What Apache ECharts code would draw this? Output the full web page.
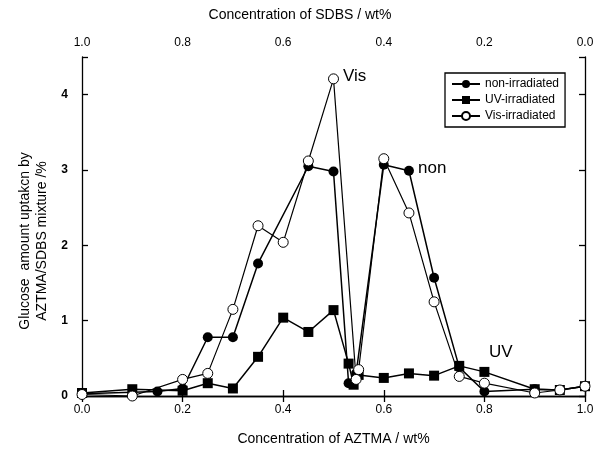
<!DOCTYPE html>
<html>
<head>
<meta charset="utf-8">
<script src="https://cdn.jsdelivr.net/npm/echarts@6/dist/echarts.min.js"></script>
<style>html,body{margin:0;padding:0;background:#fff;}#c{width:599px;height:455px;}</style>
</head>
<body>
<div id="c"></div>
<script>
// AZTMA concentration (wt%) and glucose uptake (%) per series
const nonX = [0, 0.15, 0.2, 0.25, 0.3, 0.35, 0.45, 0.5, 0.53, 0.545, 0.6, 0.65, 0.7, 0.75, 0.8, 0.9, 0.95, 1.0];
const nonY = [0.03, 0.06, 0.1, 0.78, 0.78, 1.76, 3.05, 2.98, 0.17, 0.3, 3.07, 2.99, 1.57, 0.38, 0.06, 0.09, 0.08, 0.13];
const uvX = [0, 0.1, 0.2, 0.25, 0.3, 0.35, 0.4, 0.45, 0.5, 0.53, 0.54, 0.55, 0.6, 0.65, 0.7, 0.75, 0.8, 0.9, 0.95, 1.0];
const uvY = [0.04, 0.09, 0.07, 0.17, 0.1, 0.52, 1.04, 0.85, 1.14, 0.43, 0.15, 0.28, 0.24, 0.3, 0.27, 0.4, 0.32, 0.09, 0.08, 0.13];
const visX = [0, 0.1, 0.2, 0.25, 0.3, 0.35, 0.4, 0.45, 0.5, 0.545, 0.55, 0.6, 0.65, 0.7, 0.75, 0.8, 0.9, 0.95, 1.0];
const visY = [0.02, 0.0, 0.22, 0.3, 1.15, 2.26, 2.04, 3.12, 4.21, 0.22, 0.35, 3.15, 2.43, 1.25, 0.26, 0.17, 0.04, 0.08, 0.13];
const seriesNames = ['non-irradiated', 'UV-irradiated', 'Vis-irradiated'];
const yTicks = [0, 1, 2, 3, 4];
const xTicks = [0, 0.2, 0.4, 0.6, 0.8, 1.0];

const zip = (xs, ys) => xs.map((x, i) => [x, ys[i]]);
const font = '"Liberation Sans", Arial, Helvetica, sans-serif';

const chart = echarts.init(document.getElementById('c'));
const axisCommon = {
  axisLine: { show: true, lineStyle: { color: '#000', width: 1.3 } },
  axisTick: { show: true, inside: true, length: 6, lineStyle: { color: '#000', width: 1.3 } },
  splitLine: { show: false },
};
chart.setOption({
  animation: false,
  backgroundColor: '#fff',
  grid: { left: 82, right: 14, top: 57, bottom: 59 },
  xAxis: [
    Object.assign({
      type: 'value', position: 'bottom', min: 0, max: 1, interval: 0.2,
      axisLabel: { fontFamily: font, fontSize: 12, color: '#000', margin: 8,
        formatter: v => xTicks.includes(Math.round(v * 10) / 10) ? v.toFixed(1) : '' },
      name: 'Concentration of AZTMA / wt%', nameLocation: 'middle', nameGap: 36,
      nameTextStyle: { fontFamily: font, fontSize: 14, color: '#000' }
    }, axisCommon),
    Object.assign({
      type: 'value', position: 'top', min: 0, max: 1, interval: 0.2, inverse: true,
      axisLabel: { fontFamily: font, fontSize: 12, color: '#000', margin: 8,
        formatter: v => v.toFixed(1) }
    }, axisCommon)
  ],
  yAxis: [
    Object.assign({
      type: 'value', position: 'left', min: 0, max: 4.5, interval: 1,
      axisLabel: { fontFamily: font, fontSize: 12, fontWeight: 'bold', color: '#000', margin: 14,
        formatter: v => yTicks.includes(v) ? String(v) : '' }
    }, axisCommon),
    Object.assign({
      type: 'value', position: 'right', min: 0, max: 4.5, interval: 1,
      axisLabel: { show: false }
    }, axisCommon)
  ],
  legend: {
    orient: 'vertical', left: 445, top: 73,
    itemWidth: 28, itemHeight: 10, itemGap: 4,
    padding: [5, 6, 5, 6],
    borderColor: '#000', borderWidth: 1.3, backgroundColor: '#fff',
    textStyle: { fontFamily: font, fontSize: 12, color: '#000' },
    data: seriesNames
  },
  series: [
    { name: seriesNames[0], type: 'line', data: zip(nonX, nonY), symbol: 'circle', symbolSize: 10,
      lineStyle: { color: '#000', width: 1.5 }, itemStyle: { color: '#000' }, z: 3 },
    { name: seriesNames[1], type: 'line', data: zip(uvX, uvY), symbol: 'rect', symbolSize: 10,
      lineStyle: { color: '#000', width: 1.5 }, itemStyle: { color: '#000' }, z: 2 },
    { name: seriesNames[2], type: 'line', data: zip(visX, visY), symbol: 'circle', symbolSize: 10,
      lineStyle: { color: '#000', width: 1.2 }, itemStyle: { color: '#fff', borderColor: '#000', borderWidth: 1 }, z: 4 }
  ],
  graphic: [
    { type: 'text', x: 300, y: 15,
      style: { text: 'Concentration of SDBS / wt%', font: '14px ' + font, fill: '#000', textAlign: 'center', textVerticalAlign: 'middle' } },
    { type: 'text', x: 34, y: 241, rotation: Math.PI / 2,
      style: { text: 'Glucose  amount uptakcn by\nAZTMA/SDBS mixture /%', font: '14px ' + font, fill: '#000',
        textAlign: 'center', textVerticalAlign: 'middle', lineHeight: 17 } },
    { type: 'text', x: 343, y: 68, style: { text: 'Vis', font: '17px ' + font, fill: '#000' } },
    { type: 'text', x: 418, y: 160, style: { text: 'non', font: '17px ' + font, fill: '#000' } },
    { type: 'text', x: 489, y: 344, style: { text: 'UV', font: '17px ' + font, fill: '#000' } }
  ]
});
</script>
</body>
</html>
